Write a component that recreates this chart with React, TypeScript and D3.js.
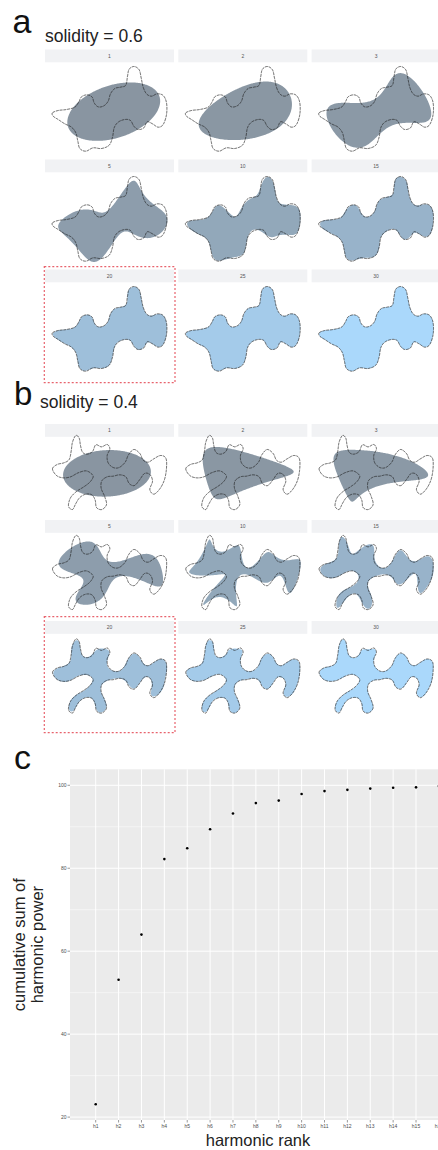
import React, { useMemo } from "react";
import * as d3 from "d3";

// ---------- data ----------
const HARMONICS = [1, 2, 3, 5, 10, 15, 20, 25, 30];
const MAX_HARMONIC = 30;

// Digitised outline of the solidity = 0.6 shape (arbitrary units, y down)
const SHAPE_A_X = [18, 35, 60, 85, 97, 105, 122, 137, 143, 155, 172, 185, 192, 205, 222, 238, 243, 248, 263, 278, 284, 290, 300, 315, 332, 350, 360, 360, 350, 335, 318, 302, 292, 275, 262, 252, 235, 215, 203, 198, 188, 165, 140, 118, 100, 94, 88, 75, 55, 35, 20];
const SHAPE_A_Y = [155, 148, 145, 138, 122, 107, 101, 108, 125, 137, 134, 120, 98, 82, 78, 72, 45, 24, 16, 26, 50, 78, 98, 105, 98, 103, 125, 160, 190, 198, 188, 182, 200, 205, 195, 178, 175, 183, 200, 228, 252, 262, 260, 270, 262, 240, 215, 198, 188, 175, 165];

// Digitised outline of the solidity = 0.4 shape
const SHAPE_B_X = [18, 32, 52, 68, 74, 78, 88, 98, 102, 108, 122, 138, 148, 165, 182, 190, 182, 185, 200, 218, 236, 246, 262, 280, 290, 305, 322, 342, 358, 360, 354, 340, 322, 310, 318, 310, 294, 280, 264, 248, 238, 220, 200, 182, 166, 164, 174, 180, 166, 150, 146, 136, 118, 100, 88, 78, 66, 72, 90, 112, 130, 140, 134, 118, 95, 72, 50, 30];
const SHAPE_B_Y = [128, 115, 110, 100, 75, 48, 28, 36, 58, 78, 84, 76, 56, 62, 55, 68, 88, 110, 124, 124, 108, 86, 70, 82, 102, 108, 98, 88, 96, 125, 160, 188, 204, 190, 165, 145, 142, 160, 178, 172, 152, 146, 150, 152, 164, 186, 210, 235, 250, 244, 222, 206, 204, 214, 232, 250, 240, 215, 196, 182, 168, 152, 142, 134, 140, 152, 155, 148];

const RANK_LABELS = ["h1", "h2", "h3", "h4", "h5", "h6", "h7", "h8", "h9", "h10", "h11", "h12", "h13", "h14", "h15", "h16"];
const CUM_POWER = [23.1, 53.1, 64.0, 82.2, 84.8, 89.4, 93.2, 95.7, 96.3, 97.9, 98.6, 98.9, 99.2, 99.4, 99.5, 99.8];
const Y_TICKS = [20, 40, 60, 80, 100];
const Y_MINOR = [30, 50, 70, 90];

// ---------- geometry helpers ----------
type Pt = [number, number];

function catmullRom(xs: number[], ys: number[], perSeg = 12): Pt[] {
  const n = xs.length;
  const out: Pt[] = [];
  for (let i = 0; i < n; i++) {
    const i0 = (i - 1 + n) % n, i2 = (i + 1) % n, i3 = (i + 2) % n;
    for (let s = 0; s < perSeg; s++) {
      const t = s / perSeg, t2 = t * t, t3 = t2 * t;
      const f = (a: number, b: number, c: number, d: number) =>
        0.5 * (2 * b + (-a + c) * t + (2 * a - 5 * b + 4 * c - d) * t2 + (-a + 3 * b - 3 * c + d) * t3);
      out.push([f(xs[i0], xs[i], xs[i2], xs[i3]), f(ys[i0], ys[i], ys[i2], ys[i3])]);
    }
  }
  return out;
}

function resample(pts: Pt[], N: number): Pt[] {
  const n = pts.length;
  const cum = [0];
  for (let i = 1; i <= n; i++) {
    const a = pts[i - 1], b = pts[i % n];
    cum.push(cum[i - 1] + Math.hypot(b[0] - a[0], b[1] - a[1]));
  }
  const L = cum[n];
  const out: Pt[] = [];
  let j = 0;
  for (let k = 0; k < N; k++) {
    const s = (k / N) * L;
    while (cum[j + 1] < s) j++;
    const a = pts[j], b = pts[(j + 1) % n];
    const u = (s - cum[j]) / (cum[j + 1] - cum[j] || 1);
    out.push([a[0] + u * (b[0] - a[0]), a[1] + u * (b[1] - a[1])]);
  }
  return out;
}

function fourierCoefs(pts: Pt[], H: number) {
  const N = pts.length;
  const coefs: { k: number; re: number; im: number }[] = [];
  for (let k = -H; k <= H; k++) {
    let re = 0, im = 0;
    for (let n = 0; n < N; n++) {
      const ang = (-2 * Math.PI * k * n) / N;
      const c = Math.cos(ang), s = Math.sin(ang);
      const [x, y] = pts[n];
      re += x * c - y * s;
      im += x * s + y * c;
    }
    coefs.push({ k, re: re / N, im: im / N });
  }
  return coefs;
}

function reconstruct(coefs: { k: number; re: number; im: number }[], H: number, M = 360): Pt[] {
  const out: Pt[] = [];
  for (let m = 0; m < M; m++) {
    let x = 0, y = 0;
    for (const c of coefs) {
      if (Math.abs(c.k) > H) continue;
      const ang = (2 * Math.PI * c.k * m) / M;
      const co = Math.cos(ang), si = Math.sin(ang);
      x += c.re * co - c.im * si;
      y += c.re * si + c.im * co;
    }
    out.push([x, y]);
  }
  return out;
}

// ---------- layout ----------
const W = 438, H = 1150;
const FONT = "'Liberation Sans', Arial, Helvetica, sans-serif";
const COL_X = [45, 178.3, 311.6];
const PANEL_W = 129;
const STRIP_H = 12.8;
const A_STRIPS = [49.5, 159.5, 269.5];
const A_CENTERS = [108.5, 218.5, 328.5];
const B_STRIPS = [424, 520, 621];
const B_CENTERS = [473.5, 573.5, 677];

const fillScale = d3.scaleLinear<string>().domain([1, MAX_HARMONIC]).range(["#132B43", "#56B1F7"]).interpolate(d3.interpolateLab);

function ShapeGrid({ xs, ys, strips, centers }: { xs: number[]; ys: number[]; strips: number[]; centers: number[] }) {
  const { outline, coefs } = useMemo(() => {
    const dense = catmullRom(xs, ys);
    const rs = resample(dense, 512);
    return { outline: dense, coefs: fourierCoefs(rs, MAX_HARMONIC) };
  }, [xs, ys]);
  const line = d3.line<Pt>().curve(d3.curveLinearClosed);
  return (
    <g>
      {HARMONICS.map((h, i) => {
        const r = Math.floor(i / 3), c = i % 3;
        const x0 = COL_X[c];
        const sx = d3.scaleLinear().domain([189 - 195, 189 + 195]).range([x0 + PANEL_W / 2 - 65, x0 + PANEL_W / 2 + 65]);
        const sy = d3.scaleLinear().domain([142 - 150, 142 + 150]).range([centers[r] - 50, centers[r] + 50]);
        const rec = reconstruct(coefs, h).map((p) => [sx(p[0]), sy(p[1])] as Pt);
        const ol = outline.map((p) => [sx(p[0]), sy(p[1])] as Pt);
        return (
          <g key={h}>
            <rect x={x0} y={strips[r]} width={PANEL_W} height={STRIP_H} fill="#f1f2f4" />
            <text x={x0 + PANEL_W / 2} y={strips[r] + STRIP_H / 2 + 1.8} fontSize={5} fill="#555" textAnchor="middle" fontFamily={FONT}>{h}</text>
            <path d={line(rec) || ""} fill={fillScale(h)} fillOpacity={0.5} stroke="none" />
            <path d={line(ol) || ""} fill="none" stroke="#1e1e1e" strokeWidth={0.8} strokeDasharray="3 0.8" strokeOpacity={0.85} />
          </g>
        );
      })}
    </g>
  );
}

function CumulativePanel() {
  const left = 70, top = 769.3, right = 446, bottom = 1120;
  const y = d3.scaleLinear().domain([19.3, 103.85]).range([bottom, top]);
  const x = d3.scalePoint<string>().domain(RANK_LABELS).range([95.7, 438.9]);
  return (
    <g fontFamily={FONT}>
      <rect x={left} y={top} width={right - left} height={bottom - top} fill="#ebebeb" />
      {Y_MINOR.map((v) => (
        <line key={"m" + v} x1={left} x2={right} y1={y(v)} y2={y(v)} stroke="#fff" strokeWidth={0.5} />
      ))}
      {Y_TICKS.map((v) => (
        <line key={"M" + v} x1={left} x2={right} y1={y(v)} y2={y(v)} stroke="#fff" strokeWidth={1} />
      ))}
      {RANK_LABELS.map((l) => (
        <line key={"v" + l} x1={x(l)!} x2={x(l)!} y1={top} y2={bottom} stroke="#fff" strokeWidth={1} />
      ))}
      {RANK_LABELS.map((l, i) => (
        <circle key={"p" + l} cx={x(l)!} cy={y(CUM_POWER[i])} r={1.3} fill="#000" />
      ))}
      {Y_TICKS.map((v) => (
        <g key={"t" + v}>
          <line x1={left - 2.5} x2={left} y1={y(v)} y2={y(v)} stroke="#333" strokeWidth={0.5} />
          <text x={left - 3.5} y={y(v) + 1.8} fontSize={5} fill="#4d4d4d" textAnchor="end">{v}</text>
        </g>
      ))}
      {RANK_LABELS.map((l) => (
        <g key={"xt" + l}>
          <line x1={x(l)!} x2={x(l)!} y1={bottom} y2={bottom + 2.5} stroke="#333" strokeWidth={0.5} />
          <text x={x(l)!} y={bottom + 8} fontSize={5} fill="#4d4d4d" textAnchor="middle">{l}</text>
        </g>
      ))}
      <text transform={`translate(25, ${(top + bottom) / 2}) rotate(-90)`} fontSize={16.5} fill="#222" textAnchor="middle">
        <tspan x={0} y={0}>cumulative sum of</tspan>
        <tspan x={0} y={18}>harmonic power</tspan>
      </text>
      <text x={258} y={1145.5} fontSize={16.5} fill="#222" textAnchor="middle">harmonic rank</text>
    </g>
  );
}

export default function App() {
  return (
    <svg width={W} height={H} style={{ position: "absolute", left: 0, top: 0, background: "#fff" }} fontFamily={FONT}>
      <rect width={W} height={H} fill="#fff" />
      <text x={12.5} y={33.3} fontSize={34} fill="#111">a</text>
      <text x={45} y={41.5} fontSize={17.5} fill="#222">solidity = 0.6</text>
      <ShapeGrid xs={SHAPE_A_X} ys={SHAPE_A_Y} strips={A_STRIPS} centers={A_CENTERS} />
      <rect x={44.3} y={266.7} width={130.7} height={116} fill="none" stroke="#e8636d" strokeWidth={1.2} strokeDasharray="2 2" />

      <text x={14} y={405} fontSize={33} fill="#111">b</text>
      <text x={40} y={408} fontSize={17.5} fill="#222">solidity = 0.4</text>
      <ShapeGrid xs={SHAPE_B_X} ys={SHAPE_B_Y} strips={B_STRIPS} centers={B_CENTERS} />
      <rect x={44.3} y={616.7} width={130.7} height={116} fill="none" stroke="#e8636d" strokeWidth={1.2} strokeDasharray="2 2" />

      <text x={14} y={769} fontSize={34} fill="#111">c</text>
      <CumulativePanel />
    </svg>
  );
}
